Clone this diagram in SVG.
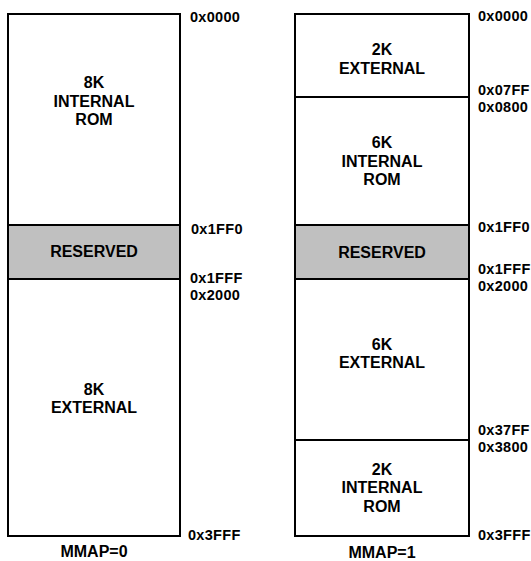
<svg xmlns="http://www.w3.org/2000/svg" width="531" height="561" viewBox="0 0 531 561">
<style>
.box{fill:#fff;stroke:#000;stroke-width:2}
.res{fill:#c0c0c0;stroke:#000;stroke-width:2}
.t{font-family:"Liberation Sans",Arial,sans-serif;font-weight:bold;font-size:16px;text-anchor:middle;fill:#000}
.a{font-family:"Liberation Sans",Arial,sans-serif;font-weight:bold;font-size:14.5px;letter-spacing:0.3px;fill:#000}
</style>
<rect width="531" height="561" fill="#fff"/>
<g id="map0">
  <g id="m0-rom">
    <rect class="box" x="8" y="14" width="172" height="211"/>
    <text class="t" x="94" y="88">8K</text>
    <text class="t" x="94" y="106.5">INTERNAL</text>
    <text class="t" x="94" y="125">ROM</text>
  </g>
  <g id="m0-reserved">
    <rect class="res" x="8" y="225" width="172" height="54"/>
    <text class="t" x="94" y="257">RESERVED</text>
  </g>
  <g id="m0-ext">
    <rect class="box" x="8" y="279" width="172" height="257"/>
    <text class="t" x="94" y="395">8K</text>
    <text class="t" x="94" y="413">EXTERNAL</text>
  </g>
  <g id="m0-addr">
    <text class="a" x="190" y="21.5">0x0000</text>
    <text class="a" x="191" y="234">0x1FF0</text>
    <text class="a" x="190" y="283">0x1FFF</text>
    <text class="a" x="190" y="300">0x2000</text>
    <text class="a" x="188" y="540">0x3FFF</text>
  </g>
  <text class="t" x="94" y="557">MMAP=0</text>
</g>
<g id="map1">
  <g id="m1-ext2k">
    <rect class="box" x="295" y="14" width="174" height="83"/>
    <text class="t" x="382" y="55">2K</text>
    <text class="t" x="382" y="74">EXTERNAL</text>
  </g>
  <g id="m1-rom6k">
    <rect class="box" x="295" y="97" width="174" height="128"/>
    <text class="t" x="382" y="148">6K</text>
    <text class="t" x="382" y="166.5">INTERNAL</text>
    <text class="t" x="382" y="185">ROM</text>
  </g>
  <g id="m1-reserved">
    <rect class="res" x="295" y="225" width="174" height="54"/>
    <text class="t" x="382" y="258">RESERVED</text>
  </g>
  <g id="m1-ext6k">
    <rect class="box" x="295" y="279" width="174" height="161"/>
    <text class="t" x="382" y="350">6K</text>
    <text class="t" x="382" y="368">EXTERNAL</text>
  </g>
  <g id="m1-rom2k">
    <rect class="box" x="295" y="440" width="174" height="96"/>
    <text class="t" x="382" y="475">2K</text>
    <text class="t" x="382" y="493">INTERNAL</text>
    <text class="t" x="382" y="511.5">ROM</text>
  </g>
  <g id="m1-addr">
    <text class="a" x="478" y="20.5">0x0000</text>
    <text class="a" x="478" y="95">0x07FF</text>
    <text class="a" x="478" y="112">0x0800</text>
    <text class="a" x="478" y="232">0x1FF0</text>
    <text class="a" x="478" y="274">0x1FFF</text>
    <text class="a" x="478" y="291">0x2000</text>
    <text class="a" x="478" y="435">0x37FF</text>
    <text class="a" x="478" y="452">0x3800</text>
    <text class="a" x="478" y="540">0x3FFF</text>
  </g>
  <text class="t" x="382" y="558">MMAP=1</text>
</g>
<g id="connectors"></g>
</svg>
